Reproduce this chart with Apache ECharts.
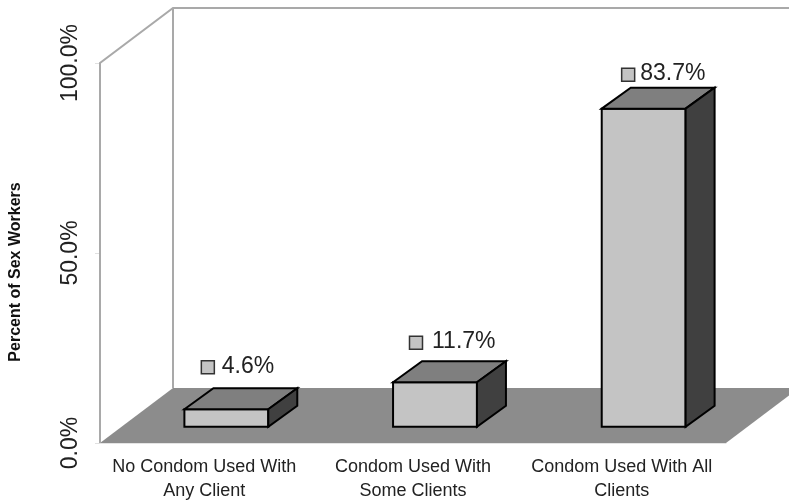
<!DOCTYPE html>
<html>
<head>
<meta charset="utf-8">
<style>html,body{margin:0;padding:0;background:#fff}#c{width:789px;height:503px}</style>
<script src="https://cdn.jsdelivr.net/npm/echarts@6/dist/echarts.min.js"></script>
</head>
<body>
<div id="c"></div>
<script>
var categories = ["No Condom Used With\nAny Client", "Condom Used With\nSome Clients", "Condom Used With All\nClients"];
var percentOfSexWorkers = [4.6, 11.7, 83.7];
var valueTicks = [0, 50, 100];
var axisTitle = "Percent of Sex Workers";

// 3D look (pixels)
var WALL_DX = 73, WALL_DY = 55, BAR_DX = 29, BAR_DY = 21, BAR_SHIFT_X = 22, BAR_SHIFT_Y = 16.3;
var labelNudge = [[-18.5, -42, 14], [-19, -39.5, 16], [-15.5, -34, 12]];

var chart = echarts.init(document.getElementById('c'), null, {renderer: 'canvas'});

function poly(points, fill, stroke, lw) {
  return {type: 'polygon', shape: {points: points},
    style: {fill: fill, stroke: stroke || null, lineWidth: lw || 0, lineJoin: 'miter'}};
}
function path(points, stroke, lw) {
  return {type: 'polyline', shape: {points: points},
    style: {fill: null, stroke: stroke, lineWidth: lw, lineJoin: 'miter'}};
}

function renderRoom(params, api) {
  var cs = params.coordSys;
  var y0 = api.coord([0, 0])[1], y1 = api.coord([0, 100])[1];
  var l = cs.x, r = cs.x + cs.width;
  return {type: 'group', silent: true, children: [
    poly([[l, y0], [l + WALL_DX, y0 - WALL_DY], [r + WALL_DX, y0 - WALL_DY], [r, y0]], '#8c8c8c'),
    path([[l, y0], [l, y1], [l + WALL_DX, y1 - WALL_DY], [r + WALL_DX, y1 - WALL_DY]], '#a9a9a9', 2),
    path([[l + WALL_DX, y1 - WALL_DY], [l + WALL_DX, y0 - WALL_DY]], '#a9a9a9', 2)
  ]};
}

function renderBar(params, api) {
  var i = params.dataIndex;
  var p = api.coord([api.value(0), api.value(1)]);
  var b = api.coord([api.value(0), 0]);
  var w = api.size([1, 0])[0] * 0.402;
  var xl = p[0] + BAR_SHIFT_X - w / 2, xr = xl + w;
  var yt = p[1] - BAR_SHIFT_Y, yb = b[1] - BAR_SHIFT_Y;
  var n = labelNudge[i], cx = (xl + xr) / 2;
  return {type: 'group', children: [
    poly([[xl, yt], [xr, yt], [xr, yb], [xl, yb]], '#c4c4c4', '#000', 2),
    poly([[xl, yt], [xl + BAR_DX, yt - BAR_DY], [xr + BAR_DX, yt - BAR_DY], [xr, yt]], '#7f7f7f', '#000', 2),
    poly([[xr, yt], [xr + BAR_DX, yt - BAR_DY], [xr + BAR_DX, yb - BAR_DY], [xr, yb]], '#404040', '#000', 2),
    {type: 'rect', shape: {x: cx + n[0] - 6.5, y: yt + n[1] - 6.5, width: 13, height: 13},
      style: {fill: '#c4c4c4', stroke: '#333', lineWidth: 1.5}},
    {type: 'text', x: cx + n[0] + n[2] - 6.5 + 6.5, y: yt + n[1] - 1,
      style: {text: api.value(1).toFixed(1) + '%', fill: '#222', fontSize: 23,
        fontFamily: '"Liberation Sans", Arial, sans-serif', textAlign: 'left', textVerticalAlign: 'middle'}}
  ]};
}

chart.setOption({
  animation: false,
  backgroundColor: '#fff',
  grid: {left: 93, top: 63, width: 633, height: 380, containLabel: false},
  xAxis: {
    type: 'category', data: categories,
    axisLine: {show: true, lineStyle: {color: '#e4e4e4', width: 1}},
    axisTick: {show: false},
    axisLabel: {interval: 0, margin: 12, fontSize: 18, lineHeight: 24, color: '#222',
      fontFamily: '"Liberation Sans", Arial, sans-serif'}
  },
  yAxis: {
    type: 'value', min: 0, max: 100, interval: 50,
    name: axisTitle, nameLocation: 'middle', nameGap: 76,
    nameTextStyle: {fontSize: 16, fontWeight: 'bold', color: '#111',
      fontFamily: '"Liberation Sans", Arial, sans-serif', padding: [0, 38, 0, 0]},
    splitLine: {show: false},
    axisLine: {show: false},
    axisTick: {show: true, length: 5, lineStyle: {color: '#e0e0e0', width: 1}},
    axisLabel: {rotate: 90, margin: 18, fontSize: 23, color: '#222',
      fontFamily: '"Liberation Sans", Arial, sans-serif',
      formatter: function (v) { return valueTicks.indexOf(v) >= 0 ? v.toFixed(1) + '%' : ''; }}
  },
  series: [
    {type: 'custom', name: 'room', clip: false, silent: true, z: 1, renderItem: renderRoom, data: [[0, 0]], encode: {x: 0, y: 1}},
    {type: 'custom', name: 'Percent of Sex Workers', clip: false, z: 2, renderItem: renderBar,
      data: percentOfSexWorkers.map(function (v, i) { return [i, v]; }), encode: {x: 0, y: 1}}
  ]
});
</script>
</body>
</html>
